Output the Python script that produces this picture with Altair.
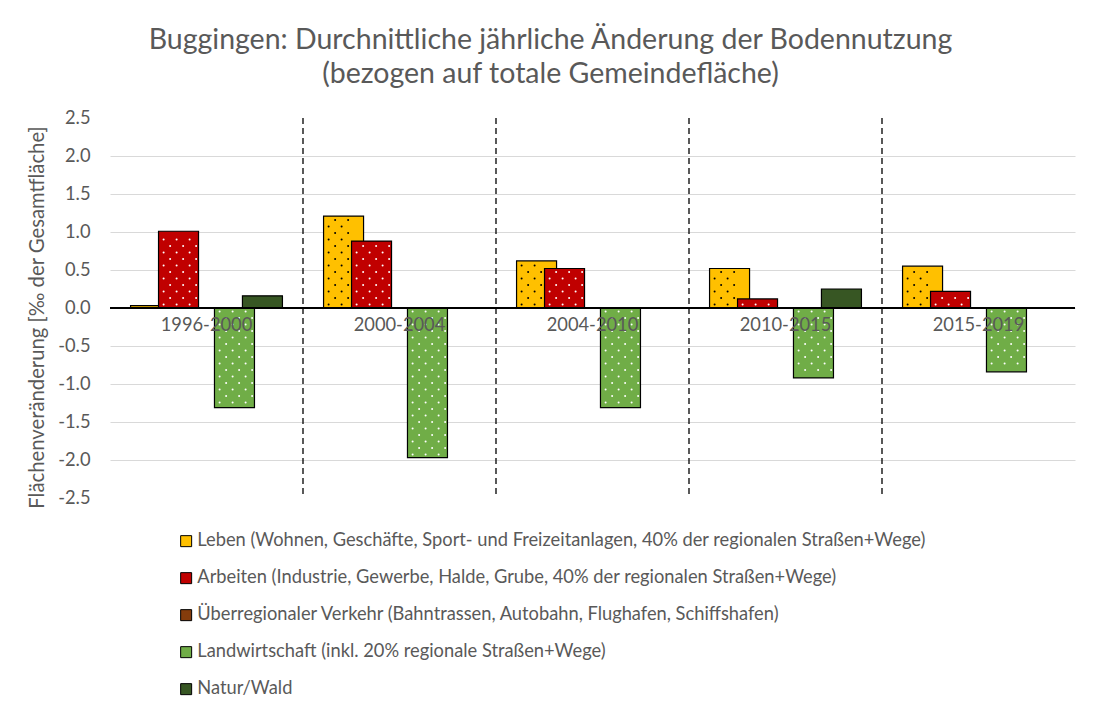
import altair as alt
import pandas as pd

periods = ["1996-2000", "2000-2004", "2004-2010", "2010-2015", "2015-2019"]
series = [
    "Leben (Wohnen, Geschäfte, Sport- und Freizeitanlagen, 40% der regionalen Straßen+Wege)",
    "Arbeiten (Industrie, Gewerbe, Halde, Grube, 40% der regionalen Straßen+Wege)",
    "Überregionaler Verkehr (Bahntrassen, Autobahn, Flughafen, Schiffshafen)",
    "Landwirtschaft (inkl. 20% regionale Straßen+Wege)",
    "Natur/Wald",
]
colors = ["#FFC000", "#C00000", "#843C0C", "#70AD47", "#375623"]

leben = [0.03, 1.21, 0.62, 0.52, 0.55]
arbeiten = [1.01, 0.88, 0.52, 0.12, 0.22]
verkehr = [0.0, 0.0, 0.0, 0.0, 0.0]
landwirtschaft = [-1.31, -1.97, -1.31, -0.92, -0.84]
natur = [0.16, 0.0, 0.0, 0.25, 0.0]

y_ticks = [-2.5, -2.0, -1.5, -1.0, -0.5, 0.0, 0.5, 1.0, 1.5, 2.0, 2.5]

values = [leben, arbeiten, verkehr, landwirtschaft, natur]
rows = []
for si, s in enumerate(series):
    for pi, p in enumerate(periods):
        rows.append({"period": p, "series": s, "value": values[si][pi], "order": si})
df = pd.DataFrame(rows)

FONT = "Lato"
GRAY = "#595959"
W, H = 965, 380

xscale = alt.Scale(domain=periods, paddingInner=0, paddingOuter=0)
yscale = alt.Scale(domain=[-2.5, 2.5], nice=False, zero=False)

base = alt.Chart(df)

bars = base.mark_bar(width=40, stroke="black", strokeWidth=1.2).encode(
    x=alt.X("period:N", scale=xscale, sort=periods,
            axis=alt.Axis(title=None, orient="bottom", offset=-H / 2, domain=False,
                          ticks=False, labelPadding=8, labelFontSize=18.3,
                          labelColor=GRAY, labelFont=FONT, labelAngle=0, zindex=1,
                          grid=False)),
    xOffset=alt.XOffset("series:N", sort=series,
                        scale=alt.Scale(domain=series, paddingInner=0, paddingOuter=0.95)),
    y=alt.Y("value:Q", scale=yscale,
            axis=alt.Axis(title="Flächenveränderung [‰ der Gesamtfläche]",
                          values=y_ticks, tickCount=len(y_ticks),
                          labelExpr="replace(format(datum.value, '.1f'), '\u2212', '-')",
                          labelOverlap=False, labelFlush=False,
                          domain=False, ticks=False, labelPadding=20,
                          labelFontSize=18.3, labelColor=GRAY, labelFont=FONT,
                          titleFontSize=20.3, titleColor=GRAY, titleFont=FONT,
                          titleFontWeight="normal", titlePadding=10, titleY=199,
                          grid=True,
                          gridColor={"condition": {"test": "abs(datum.value) > 2.4", "value": "transparent"},
                                     "value": "#d9d9d9"},
                          gridWidth=1.2)),
    y2=alt.datum(0),
    fill=alt.Fill("series:N", sort=series,
                  scale=alt.Scale(domain=series, range=colors),
                  legend=alt.Legend(title=None, orient="none", legendX=67, legendY=414,
                                    direction="vertical", symbolType="square",
                                    symbolSize=121, symbolStrokeColor="black",
                                    symbolStrokeWidth=1, labelFontSize=18.3,
                                    labelColor=GRAY, labelFont=FONT, rowPadding=18,
                                    labelOffset=2, labelLimit=1000, symbolOpacity=1)),
    order=alt.Order("order:Q"),
)

# dotted fill texture (pattern), derived from the bar values
dots = base.transform_filter(
    "datum.order != 2 && datum.order != 4 && abs(datum.value) > 0.1"
).transform_calculate(
    rowv="datum.value >= 0 ? sequence(0.045, datum.value - 0.03, 0.0855)"
         " : sequence(-0.045, datum.value + 0.03, -0.0855)"
).transform_flatten(["rowv"]).transform_calculate(
    parity="round((abs(datum.rowv) - 0.045) / 0.0855) % 2",
).transform_calculate(
    cols="datum.parity == 0 ? [-15, -2, 11] : [-8.5, 4.5, 17.5]"
).transform_flatten(["cols"]).transform_filter(
    "datum.order != 0 || datum.cols < 7"
).transform_calculate(
    off="40.6 + datum.order * 28 + datum.cols"
).mark_circle(size=4, opacity=1).encode(
    x=alt.X("period:N", scale=xscale, sort=periods),
    xOffset=alt.XOffset("off:Q", scale=alt.Scale(domain=[0, 193], nice=False, zero=False)),
    y=alt.Y("rowv:Q", scale=yscale),
    fill=alt.condition("datum.order == 0", alt.value("#000000"), alt.value("#ffffff")),
)

zero = base.mark_rule(color="black", strokeWidth=2).encode(y=alt.datum(0))

div_df = pd.DataFrame({"period": periods[1:]})
dividers = alt.Chart(div_df).mark_rule(color="black", strokeWidth=1.3, strokeDash=[6, 4]).encode(
    x=alt.X("period:N", scale=xscale, bandPosition=0),
    y=alt.value(0),
    y2=alt.value(H - 3),
)

chart = alt.layer(bars, dots, dividers, zero).resolve_scale(
    xOffset="independent"
).properties(
    width=W, height=H,
    background="white",
    title=alt.TitleParams(
        text=["Buggingen: Durchnittliche jährliche Änderung der Bodennutzung",
              "(bezogen auf totale Gemeindefläche)"],
        font=FONT, fontSize=28.5, fontWeight="normal", color=GRAY, anchor="middle",
        lineHeight=34, offset=20, dx=-42),
    autosize=alt.AutoSizeParams(type="none"),
    padding={"left": 102, "top": 110, "right": 17, "bottom": 200},
).configure_view(stroke=None)

chart.save("out.html", embed_options={"renderer": "svg", "actions": False})
